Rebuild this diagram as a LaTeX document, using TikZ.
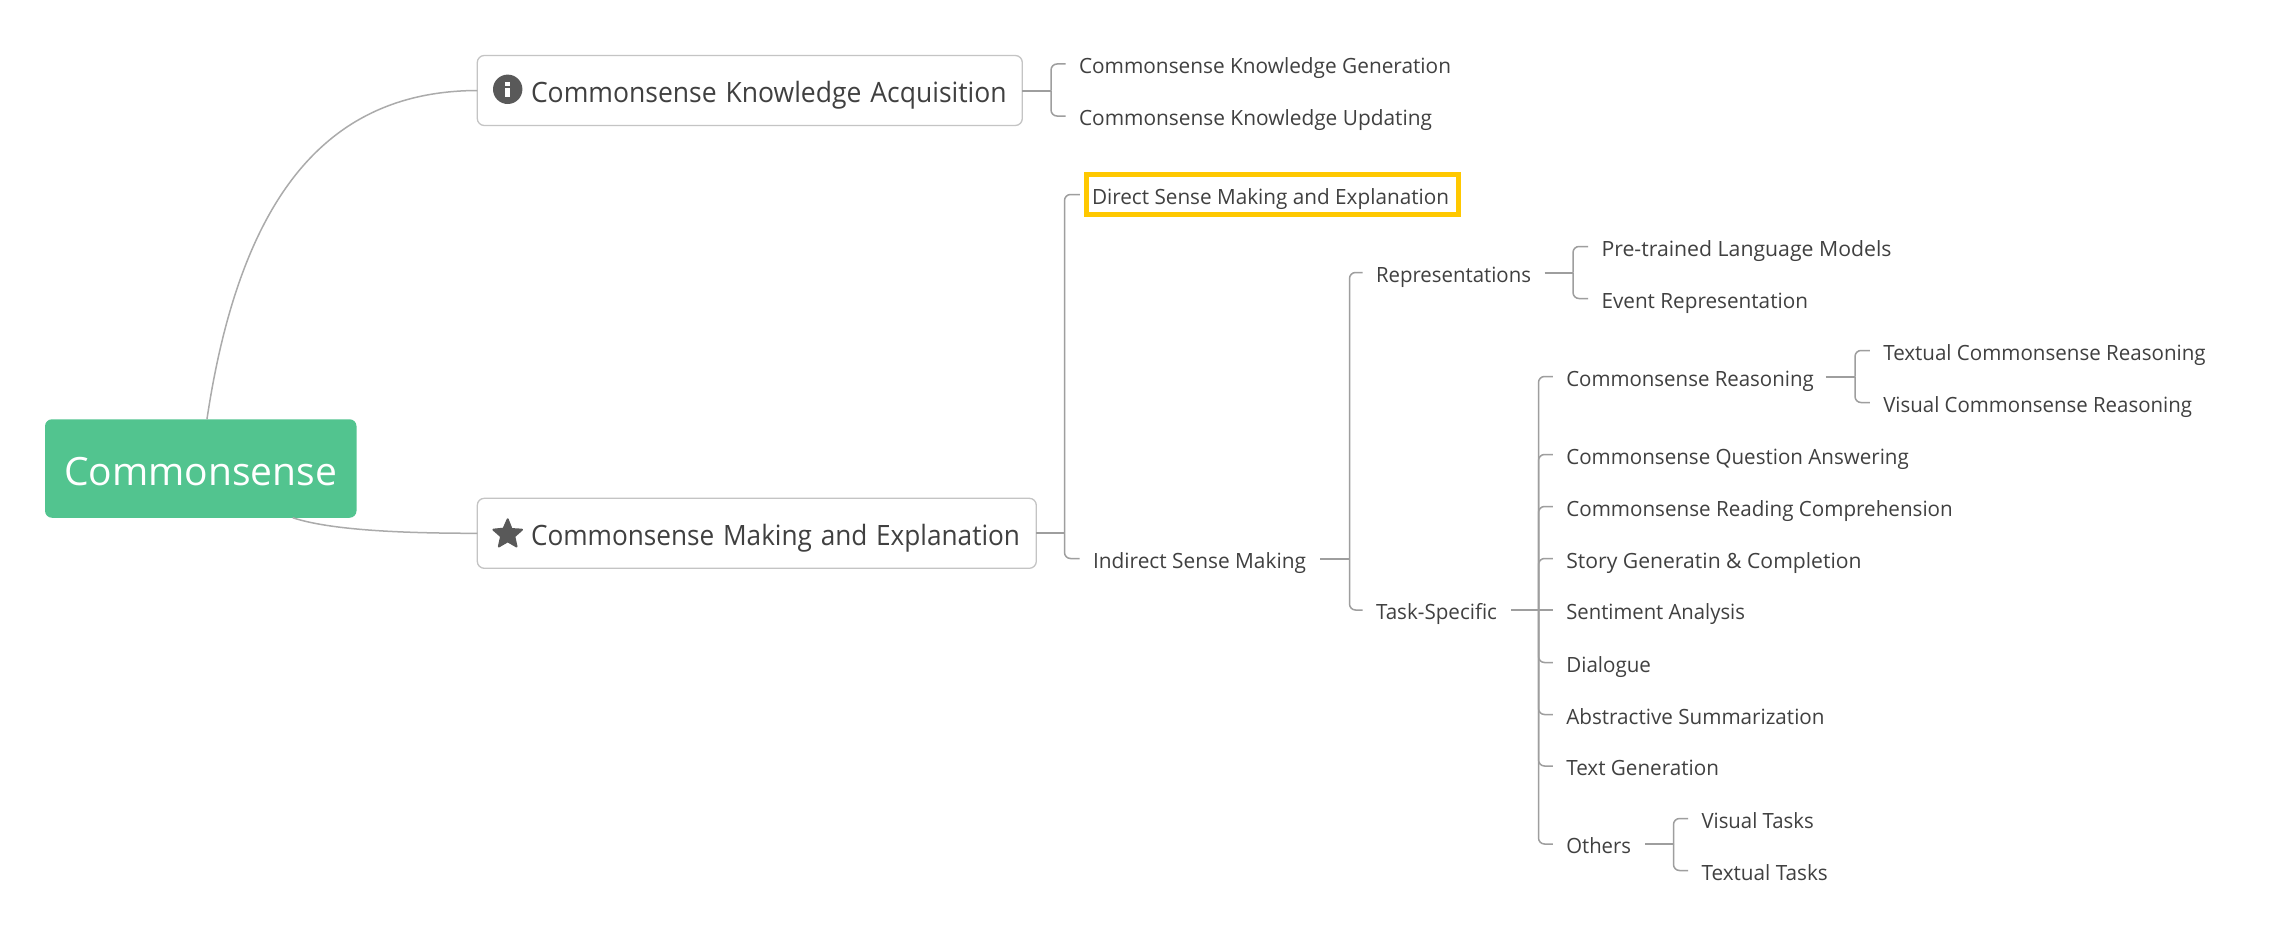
\documentclass[tikz,border=0pt]{standalone}
\usepackage{fontspec}
\usepackage{graphicx}
\setmainfont{Open Sans}
\usetikzlibrary{calc}
\definecolor{txt}{HTML}{404040}
\definecolor{icon}{HTML}{595959}
\definecolor{curve}{HTML}{ABABAB}
\definecolor{boxline}{HTML}{C4C4C4}
\definecolor{brk}{HTML}{9E9E9E}
\definecolor{rootgreen}{HTML}{52C48F}
\definecolor{gold}{HTML}{FFC800}
\newcommand{\fw}[2]{\resizebox{#1pt}{\height}{#2}}
\tikzset{
  x=1pt,y=-1pt,
  lbl/.style={anchor=west,inner sep=0pt,outer sep=0pt,text=txt,font=\fontsize{21}{25}\selectfont,text height=25pt,text depth=6pt},
  chosen/.style={anchor=center,inner sep=0pt,outer sep=0pt,text=txt,font=\fontsize{21}{25}\selectfont,text height=25pt,text depth=6pt,draw=gold,line width=4.8pt,minimum width=372.2pt,minimum height=40pt},
  mainbox/.style={anchor=west,inner sep=0pt,outer sep=0pt,text=txt,font=\fontsize{28}{32}\selectfont,draw=boxline,line width=1.3pt,rounded corners=7pt,minimum height=70pt,text height=30pt,text depth=5.5pt,align=left},
  rootbox/.style={anchor=center,inner sep=0pt,outer sep=0pt,fill=rootgreen,text=white,rounded corners=7pt,font=\fontsize{39}{46}\selectfont,minimum width=311.5pt,minimum height=98.5pt,text height=43pt,text depth=10pt},
  bigcurve/.style={draw=curve,line width=1.5pt},
  stem/.style={draw=brk,line width=2pt},
  brack/.style={draw=brk,line width=1.5pt,rounded corners=6pt,shorten >=13.5pt},
}
\begin{document}
\begin{tikzpicture}
\useasboundingbox[fill=white] (0,0) rectangle (2280,942);
% main nodes
\node[rootbox] (root) at (200.75,468.5) {\fw{273}{Commonsense}};
\node[mainbox,text width=545pt] (ka) at (477.3,90.5) {\hspace*{53.7pt}\fw{475.7}{Commonsense Knowledge Acquisition}};
\node[mainbox,text width=559pt] (me) at (477.3,533.3) {\hspace*{53.7pt}\fw{489}{Commonsense Making and Explanation}};
% icons
\fill[icon] (507.7,89.3) circle (14.7);
\fill[white] (505.4,81.5) rectangle (510,85.6);
\fill[white] (505.4,87.6) rectangle (510,97);
\fill[icon,draw=icon,line width=2pt,line join=round,shift={(507.7,534.3)}]
  (0,-15) -- (3.82,-5.26) -- (14.27,-4.64) -- (6.6,2.15) -- (8.82,12.14) -- (0,7)
  -- (-8.82,12.14) -- (-6.6,2.15) -- (-14.27,-4.64) -- (-4.1,-5.66) -- cycle;
% level 2
\node[lbl] (gen) at (1079,64) {\fw{372}{Commonsense Knowledge Generation}};
\node[lbl] (upd) at (1079,116) {\fw{353}{Commonsense Knowledge Updating}};
\node[chosen] (direct) at (1272.5,194.5) {\fw{357}{Direct Sense Making and Explanation}\hspace*{4pt}};
\node[lbl] (indirect) at (1093,558.5) {\fw{213}{Indirect Sense Making}};
% level 3
\node[lbl] (repr) at (1376,272.5) {\fw{155}{Representations}};
\node[lbl] (task) at (1376,610) {\fw{121}{Task-Specific}};
% level 4
\node[lbl] (plm) at (1601.5,246.5) {\fw{290}{Pre-trained Language Models}};
\node[lbl] (event) at (1601.5,298.5) {\fw{206.5}{Event Representation}};
\node[lbl] (reason) at (1566.3,376.5) {\fw{247.5}{Commonsense Reasoning}};
\node[lbl] (qa) at (1566.3,454.5) {\fw{342.5}{Commonsense Question Answering}};
\node[lbl] (read) at (1566.3,506.5) {\fw{386.5}{Commonsense Reading Comprehension}};
\node[lbl] (story) at (1566.3,558.5) {\fw{295.3}{Story Generatin \& Completion}};
\node[lbl] (sent) at (1566.3,610) {\fw{178.7}{Sentiment Analysis}};
\node[lbl] (dial) at (1566.3,662.5) {\fw{84.7}{Dialogue}};
\node[lbl] (abst) at (1566.3,714.5) {\fw{258.3}{Abstractive Summarization}};
\node[lbl] (tgen) at (1566.3,766) {\fw{152.7}{Text Generation}};
\node[lbl] (others) at (1566.3,844) {\fw{64.7}{Others}};
% level 5
\node[lbl] (tcr) at (1883.3,350.5) {\fw{322.4}{Textual Commonsense Reasoning}};
\node[lbl] (vcr) at (1883.3,402.5) {\fw{308.7}{Visual Commonsense Reasoning}};
\node[lbl] (vt) at (1701.5,818.5) {\fw{112.3}{Visual Tasks}};
\node[lbl] (tt) at (1701.5,870.5) {\fw{126.3}{Textual Tasks}};
% junctions
\coordinate (jka) at (1051,90.5);
\coordinate (jme) at (1064.5,533.3);
\coordinate (jin) at (1349.5,558.5);
\coordinate (jre) at (1573,272.5);
\coordinate (jta) at (1538.5,610);
\coordinate (jco) at (1855,376.5);
\coordinate (jot) at (1673.5,844);
% curves from root
\draw[bigcurve] ($(root.north)+(6.2,0)$) .. controls (242,185) and (335,91) .. (ka.west);
\draw[bigcurve] ($(root.south)+(92,0)$) .. controls (330,530) and (400,533.3) .. (me.west);
% stems
\draw[stem] (ka.east) -- (jka);
\draw[stem] (me.east) -- (jme);
\draw[stem,shorten <=14pt] (indirect.east) -- (jin);
\draw[stem,shorten <=13.5pt] (repr.east) -- (jre);
\draw[stem,shorten <=14pt,shorten >=13.5pt] (task.east) -- (sent.west);
\draw[stem,shorten <=12pt] (reason.east) -- (jco);
\draw[stem,shorten <=14pt] (others.east) -- (jot);
% brackets
\draw[brack] (jka) |- (gen.west);
\draw[brack] (jka) |- (upd.west);
\draw[brack,shorten >=6.5pt] (jme) |- (direct.west);
\draw[brack] (jme) |- (indirect.west);
\draw[brack] (jin) |- (repr.west);
\draw[brack] (jin) |- (task.west);
\draw[brack] (jre) |- (plm.west);
\draw[brack] (jre) |- (event.west);
\foreach \c in {reason,qa,read,story,dial,abst,tgen,others}
  \draw[brack] (jta) |- (\c.west);
\draw[brack] (jco) |- (tcr.west);
\draw[brack] (jco) |- (vcr.west);
\draw[brack] (jot) |- (vt.west);
\draw[brack] (jot) |- (tt.west);
\end{tikzpicture}
\end{document}
